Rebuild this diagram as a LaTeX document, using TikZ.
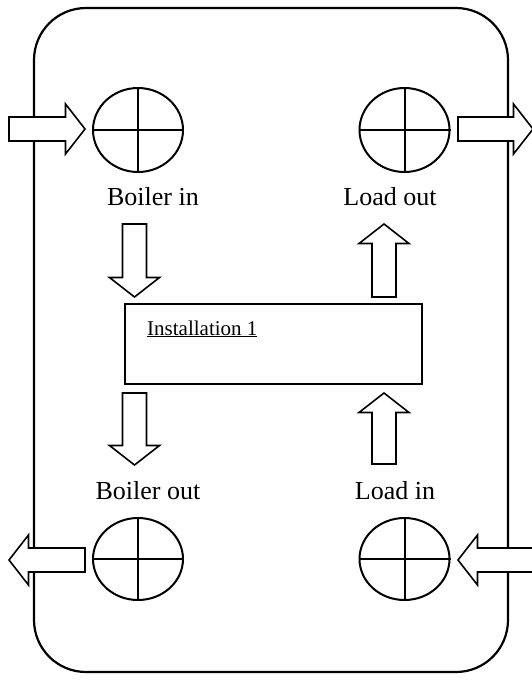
\documentclass[tikz,border=0pt]{standalone}
\usepackage{fontspec}
\setmainfont{Liberation Serif}
\usetikzlibrary{shapes.geometric}
\tikzset{
  outerbox/.style={draw=black, line width=2.2pt, rounded corners=52pt},
  valve/.style={draw=black, line width=2pt, ellipse, inner sep=0pt, minimum width=90pt, minimum height=84pt},
  crossline/.style={draw=black, line width=2pt},
  arrowline/.style={draw=black, fill=white, line width=1.6pt, line join=miter},
  lbl/.style={font=\fontsize{26}{31}\selectfont, anchor=base, inner sep=0pt},
  instbox/.style={draw=black, line width=2pt, minimum width=297pt, minimum height=80pt, inner sep=0pt},
  insttext/.style={font=\fontsize{21}{25}\selectfont, anchor=base west, inner sep=0pt},
  pics/fatarrow/.style={code={
    \path[arrowline] (0,-12) -- ({#1-19.5},-12) -- ({#1-19.5},-25) -- (#1,0)
      -- ({#1-19.5},25) -- ({#1-19.5},12) -- (0,12) -- cycle;}}
}
\begin{document}
\begin{tikzpicture}[x=1pt, y=-1pt]
\useasboundingbox (0,0) rectangle (531,681);
% outer frame
\draw[outerbox] (34,8) rectangle (508,672);

% valves
\node[valve] (vbi) at (138,130) {};
\node[valve] (vlo) at (404.5,130) {};
\node[valve, minimum height=82pt] (vbo) at (138,559) {};
\node[valve, minimum height=82pt] (vli) at (404.5,559) {};
\foreach \v in {vbi,vlo,vbo,vli}{
  \draw[crossline] (\v.north) -- (\v.south);
  \draw[crossline] (\v.west) -- (\v.east);
}

% labels
\node[lbl] (tbi) at (153,205) {Boiler in};
\node[lbl] (tlo) at (390,205) {Load out};
\node[lbl] (tbo) at (148,499) {Boiler out};
\node[lbl] (tli) at (395,499) {Load in};

% installation box
\node[instbox] (inst) at (273.5,344) {};
\node[insttext] (itxt) at (147,335) {\underline{Installation 1}};

% fat arrows
\pic at (9,129) {fatarrow=76};
\pic at (458,129) {fatarrow=75};
\pic[rotate=180] at (85,560) {fatarrow=76};
\pic[rotate=180] at (533,560) {fatarrow=75};
\pic[rotate=-90] at (134.5,224) {fatarrow=73};
\pic[rotate=90] at (384,297) {fatarrow=73};
\pic[rotate=-90] at (134.5,393) {fatarrow=72};
\pic[rotate=90] at (384,464) {fatarrow=71};
\end{tikzpicture}
\end{document}
